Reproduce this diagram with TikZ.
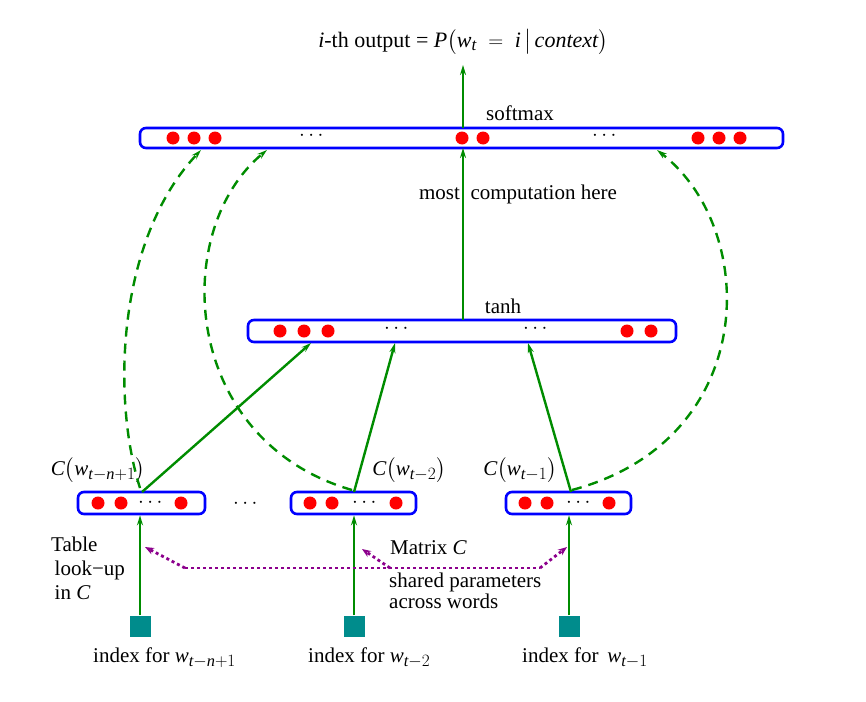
\documentclass[tikz,border=0pt]{standalone}
\usepackage{amsmath}
\usepackage{fontspec}
\setmainfont{Liberation Serif}
\usetikzlibrary{arrows.meta}
\renewcommand{\defaultscriptratio}{.78}
\renewcommand{\defaultscriptscriptratio}{.6}
\definecolor{dgreen}{RGB}{0,140,0}
\definecolor{tealsq}{RGB}{0,140,140}
\definecolor{purp}{RGB}{140,0,140}
\newcommand{\vi}[1]{\textit{#1}}
\begin{document}
\begin{tikzpicture}[x=1pt,y=-1pt,
  every node/.style={font=\fontsize{21}{24}\selectfont},
  layer/.style={draw=blue, line width=2.6pt, rounded corners=6pt, inner sep=0pt},
  neuron/.style={circle, fill=red, inner sep=0pt, minimum size=13pt},
  dotsnode/.style={inner sep=0pt},
  sq/.style={fill=tealsq, inner sep=0pt, minimum size=21pt},
  garrow/.style={draw=dgreen, line width=2.4pt, -{Stealth[length=10pt,width=6pt]}},
  gdash/.style={draw=dgreen, line width=2.4pt, dash pattern=on 10pt off 7pt, -{Stealth[length=10pt,width=6pt]}},
  pdot/.style={draw=purp, line width=2.8pt, dash pattern=on 3pt off 3pt},
  ptip/.style={-{Stealth[length=9pt,width=7pt]}},
  lbl/.style={inner sep=0pt}
]
\useasboundingbox (0,0) rectangle (866,701);
% ---- layers
\node[layer, minimum width=643pt, minimum height=20pt] (soft) at (461.5,138) {};
\node[layer, minimum width=428pt, minimum height=22pt] (tanhl) at (462,331) {};
\node[layer, minimum width=127pt, minimum height=22pt] (b1) at (141.5,503) {};
\node[layer, minimum width=125pt, minimum height=22pt] (b2) at (353.5,503) {};
\node[layer, minimum width=125pt, minimum height=22pt] (b3) at (568.5,503) {};
% ---- neurons softmax
\node[neuron] (s1) at (173,138) {};
\node[neuron] (s2) at (194,138) {};
\node[neuron] (s3) at (215,138) {};
\node[dotsnode] (sd1) at (313,136) {$\cdots$};
\node[neuron] (s4) at (462,138) {};
\node[neuron] (s5) at (483,138) {};
\node[dotsnode] (sd2) at (606,136) {$\cdots$};
\node[neuron] (s6) at (698,138) {};
\node[neuron] (s7) at (719,138) {};
\node[neuron] (s8) at (740,138) {};
% ---- neurons tanh
\node[neuron] (t1) at (280,331) {};
\node[neuron] (t2) at (304,331) {};
\node[neuron] (t3) at (328,331) {};
\node[dotsnode] (td1) at (398,329) {$\cdots$};
\node[dotsnode] (td2) at (537,329) {$\cdots$};
\node[neuron] (t4) at (627,331) {};
\node[neuron] (t5) at (651,331) {};
% ---- neurons bottom
\node[neuron] (a1) at (98,503) {};
\node[neuron] (a2) at (121,503) {};
\node[dotsnode] (ad) at (152,503) {$\cdots$};
\node[neuron] (a3) at (181,503) {};
\node[neuron] (c1) at (310,503) {};
\node[neuron] (c2) at (332,503) {};
\node[dotsnode] (cd) at (366,503) {$\cdots$};
\node[neuron] (c3) at (396,503) {};
\node[neuron] (e1) at (525,503) {};
\node[neuron] (e2) at (547,503) {};
\node[dotsnode] (ed) at (580,503) {$\cdots$};
\node[neuron] (e3) at (609,503) {};
\node[dotsnode] (mid) at (247,504) {$\cdots$};
% ---- squares
\node[sq] (q1) at (140,626) {};
\node[sq] (q2) at (354,626) {};
\node[sq] (q3) at (569,626) {};
% ---- texts
\node[lbl, font=\fontsize{22}{26}\selectfont] (title) at (463,42) {\vi{i}-th output = $\vi{P}\bigl(\vi{w}_{\vi{t}}\;=\;\vi{i}\,\big|\,\vi{context}\bigr)$};
\node[lbl] (softlbl) at (520,113) {softmax};
\node[lbl] (tanhlbl) at (503,306) {tanh};
\node[lbl] (most) at (518,194) {most\enspace computation here};
\node[lbl] (cl1) at (98,470) {$\vi{C}\bigl(\vi{w}_{\vi{t}-\vi{n}+1}\bigr)$};
\node[lbl] (cl2) at (409,470) {$\vi{C}\bigl(\vi{w}_{\vi{t}-2}\bigr)$};
\node[lbl] (cl3) at (520,470) {$\vi{C}\bigl(\vi{w}_{\vi{t}-1}\bigr)$};
\node[lbl, anchor=west] (i1) at (93,658) {index for $\vi{w}_{\vi{t}-\vi{n}+1}$};
\node[lbl, anchor=west] (i2) at (308,658) {index for $\vi{w}_{\vi{t}-2}$};
\node[lbl, anchor=west] (i3) at (522,658) {index for \,$\vi{w}_{\vi{t}-1}$};
\node[lbl, anchor=north west, align=left, font=\fontsize{21}{24}\selectfont] (table) at (51,537) {Table\\[0pt]\,look−up\\[0pt]\,in \vi{C}};
\node[lbl, anchor=west] (matrix) at (390,548) {Matrix \vi{C}};
\node[lbl, anchor=north west, align=left, font=\fontsize{21}{21}\selectfont] (shared) at (389,573) {shared parameters\\across words};
% ---- coordinates
\coordinate (outtop) at (463,65);
\coordinate (softtop) at (463,128);
\coordinate (softbot) at (463,148);
\coordinate (tanhtop) at (463,320);
\coordinate (b1top) at (142,492);
\coordinate (b2top) at (354,492);
\coordinate (b3top) at (571,492);
\coordinate (t1in) at (311,343);
\coordinate (t2in) at (395,343);
\coordinate (t3in) at (528,343);
\coordinate (d1s) at (140,488);
\coordinate (d1e) at (201,150);
\coordinate (d2s) at (352,490);
\coordinate (d2e) at (267,150);
\coordinate (d3s) at (572,490);
\coordinate (d3e) at (657,150);
% ---- solid arrows
\draw[garrow] (softtop) -- (outtop);
\draw[garrow] (tanhtop) -- (softbot);
\draw[garrow] (b1top) -- (t1in);
\draw[garrow] (b2top) -- (t2in);
\draw[garrow] (b3top) -- (t3in);
\draw[garrow] (q1.north) -- (q1.north |- b1.south);
\draw[garrow] (q2.north) -- (q2.north |- b2.south);
\draw[garrow] (q3.north) -- (q3.north |- b3.south);
% ---- dashed curves
\draw[gdash] (d1s) .. controls (112,400) and (116,240) .. (d1e);
\draw[gdash] (d2s) .. controls (180,440) and (170,230) .. (d2e);
\draw[gdash] (d3s) .. controls (760,440) and (760,230) .. (d3e);
% ---- purple dotted
\coordinate (p1) at (185,568);
\coordinate (p2) at (540,568);
\coordinate (pb) at (390,568);
\coordinate (pa1) at (145,547);
\coordinate (pa2) at (362,549);
\coordinate (pa3) at (567,547);
\draw[pdot] (p1) -- (p2);
\draw[pdot, ptip] (p1) -- (pa1);
\draw[pdot, ptip] (p2) -- (pa3);
\draw[pdot, ptip] (pb) -- (pa2);
\end{tikzpicture}
\end{document}
